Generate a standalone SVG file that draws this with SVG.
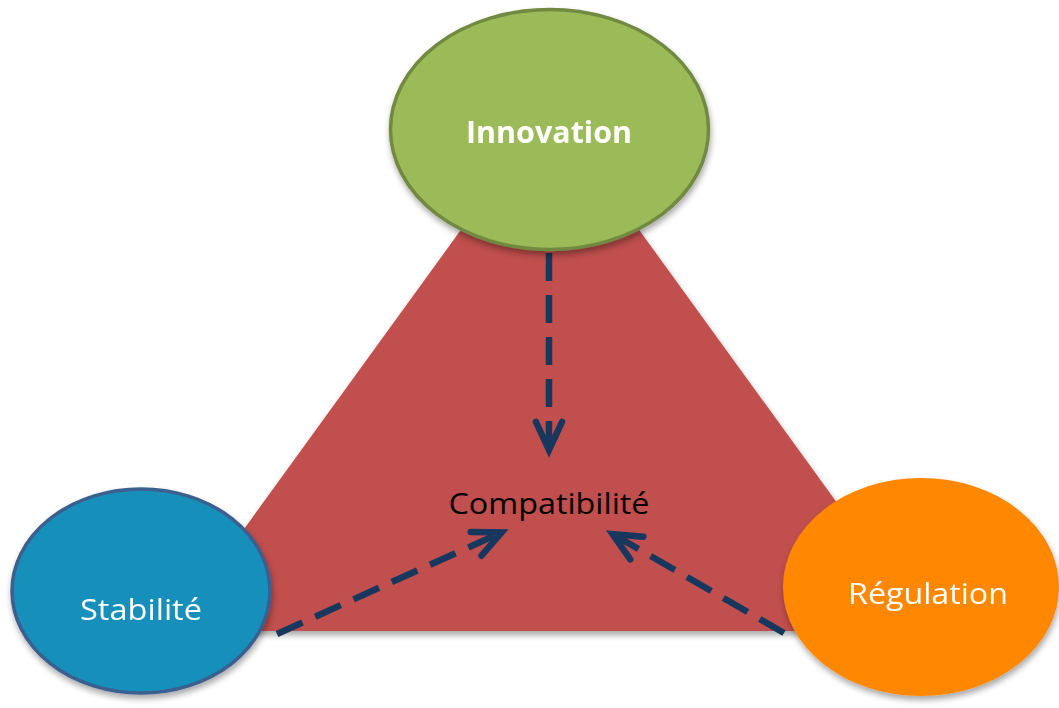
<svg xmlns="http://www.w3.org/2000/svg" width="1059" height="708" viewBox="0 0 1059 708">
<defs>
<filter id="sh" x="-20%" y="-20%" width="140%" height="140%">
<feGaussianBlur in="SourceAlpha" stdDeviation="3"/>
<feOffset dx="1" dy="4" result="b"/>
<feComponentTransfer><feFuncA type="linear" slope="0.35"/></feComponentTransfer>
<feMerge><feMergeNode/><feMergeNode in="SourceGraphic"/></feMerge>
</filter>
<marker id="ah" viewBox="-40 -20 50 40" refX="-4" refY="0" markerWidth="50" markerHeight="40" markerUnits="userSpaceOnUse" orient="auto" overflow="visible">
<path d="M-28,-13 L0,0 L-28,13" fill="none" stroke="#17375E" stroke-width="6.5" stroke-linecap="round" stroke-linejoin="miter"/>
</marker>
</defs>
<style>
.lbl{font-family:"Open Sans","Noto Sans","Liberation Sans",sans-serif;text-anchor:middle}
.conn{fill:none;stroke:#17375E;stroke-width:6.5;stroke-dasharray:28 14;marker-end:url(#ah)}
</style>
<rect width="1059" height="708" fill="#ffffff"/>
<g id="triangle" filter="url(#sh)">
<polygon points="550,107 930,631 170,631" fill="#C0504D"/>
</g>
<g id="compatibilite">
<text class="lbl" x="549" y="514" font-size="29" fill="#000000" textLength="201" lengthAdjust="spacingAndGlyphs">Compatibilité</text>
</g>
<g id="connectors">
<path class="conn" d="M549,253 L549,446"/>
<path class="conn" d="M277,634 L498,534"/>
<path class="conn" d="M784,633 L616,536"/>
</g>
<g id="innovation" filter="url(#sh)">
<ellipse cx="549.5" cy="129.5" rx="159" ry="120" fill="#9BBB59" stroke="#71893F" stroke-width="3.5"/>
<text class="lbl" x="549" y="143" font-size="30" font-weight="bold" fill="#ffffff" textLength="166" lengthAdjust="spacingAndGlyphs">Innovation</text>
</g>
<g id="stabilite" filter="url(#sh)">
<ellipse cx="141" cy="591" rx="129" ry="102" fill="#168FBA" stroke="#3B5E8F" stroke-width="3.5"/>
<text class="lbl" x="141" y="620" font-size="29" fill="#ffffff" textLength="122" lengthAdjust="spacingAndGlyphs">Stabilité</text>
</g>
<g id="regulation" filter="url(#sh)">
<ellipse cx="921" cy="587" rx="138" ry="109" fill="#FF8800"/>
<text class="lbl" x="928" y="604" font-size="29" fill="#ffffff" textLength="160" lengthAdjust="spacingAndGlyphs">Régulation</text>
</g>
</svg>
